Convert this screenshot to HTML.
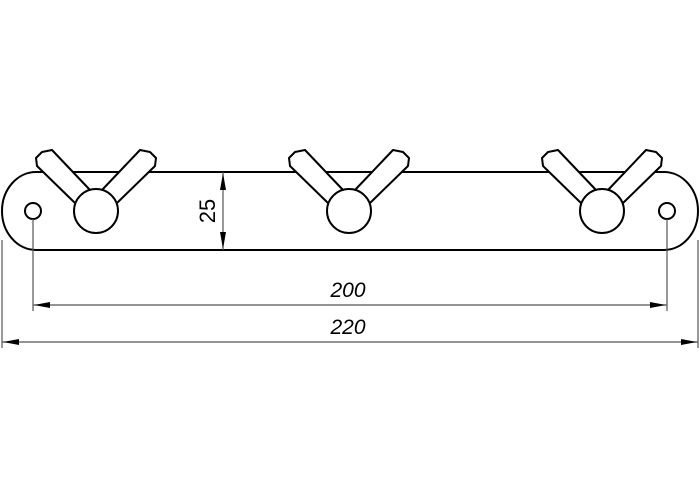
<!DOCTYPE html>
<html><head><style>html,body{margin:0;padding:0;background:#fff}svg{display:block}</style></head>
<body>
<svg width="700" height="500" viewBox="0 0 700 500" xmlns="http://www.w3.org/2000/svg">
<defs>
<g id="hook" stroke="#000" stroke-width="2" fill="#fff" stroke-linejoin="round">
  <polygon points="-21,-8 -59,-45 -60,-53 -54,-59 -44,-61 -6,-21"/>
  <polygon points="21,-8 59,-45 60,-53 54,-59 44,-61 6,-21"/>
  <circle cx="0" cy="0" r="22"/>
</g>
</defs>
<path d="M36,172 L664,172 A34,39 0 0 1 664,250 L36,250 A34,39 0 0 1 36,172 Z" fill="#fff" stroke="#000" stroke-width="2"/>
<circle cx="33" cy="211" r="8" fill="none" stroke="#000" stroke-width="2"/>
<circle cx="667" cy="211" r="8" fill="none" stroke="#000" stroke-width="2"/>
<use href="#hook" x="96" y="211"/>
<use href="#hook" x="349" y="211"/>
<use href="#hook" x="602" y="211"/>
<g stroke="#555" stroke-width="1.2" fill="none">
  <line x1="223" y1="172" x2="223" y2="250"/>
  <line x1="33" y1="219" x2="33" y2="311"/>
  <line x1="667" y1="219" x2="667" y2="311"/>
  <line x1="2" y1="240" x2="2" y2="348"/>
  <line x1="698" y1="240" x2="698" y2="348"/>
  <line x1="33" y1="305" x2="667" y2="305"/>
  <line x1="2" y1="342" x2="698" y2="342"/>
</g>
<g fill="#000">
  <polygon points="223,173 220,190 226,190"/>
  <polygon points="223,249 220,232 226,232"/>
  <polygon points="34,305 50,302 50,308"/>
  <polygon points="666,305 650,302 650,308"/>
  <polygon points="3,342 19,339 19,345"/>
  <polygon points="697,342 681,339 681,345"/>
</g>
<g font-family="Liberation Sans, sans-serif" font-size="21" font-style="italic" text-anchor="middle" fill="#000">
  <text x="348" y="297">200</text>
  <text x="348" y="334">220</text>
</g>
<text x="0" y="0" font-family="Liberation Sans, sans-serif" font-size="22" text-anchor="middle" transform="translate(215,211) rotate(-90)">25</text>
</svg>
</body></html>
